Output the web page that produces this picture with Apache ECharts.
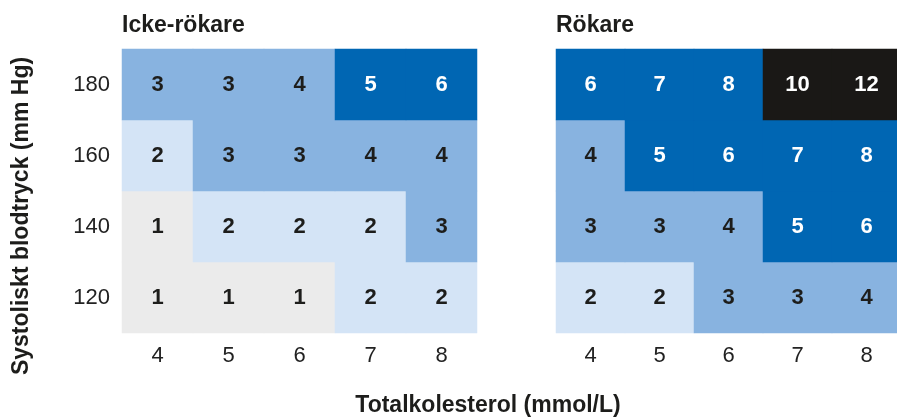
<!DOCTYPE html>
<html>
<head>
<meta charset="utf-8">
<script src="https://cdn.jsdelivr.net/npm/echarts@6/dist/echarts.min.js"></script>
<style>html,body{margin:0;padding:0;background:#fff}#c{width:897px;height:417px}</style>
</head>
<body>
<div id="c"></div>
<script>
const cholesterol = ['4', '5', '6', '7', '8'];
const bloodPressure = ['120', '140', '160', '180'];
// rows: 120, 140, 160, 180
const nonSmokers = [
  [1, 1, 1, 2, 2],
  [1, 2, 2, 2, 3],
  [2, 3, 3, 4, 4],
  [3, 3, 4, 5, 6]
];
const smokers = [
  [2, 2, 3, 3, 4],
  [3, 3, 4, 5, 6],
  [4, 5, 6, 7, 8],
  [6, 7, 8, 10, 12]
];
const panelTitles = ['Icke-rökare', 'Rökare'];
const yAxisTitle = 'Systoliskt blodtryck (mm Hg)';
const xAxisTitle = 'Totalkolesterol (mmol/L)';

const FONT = '"Liberation Sans", Arial, sans-serif';

function toData(rows) {
  const out = [];
  rows.forEach((row, yi) => row.forEach((v, xi) => out.push([xi, yi, v])));
  return out;
}

const chart = echarts.init(document.getElementById('c'));

const labelCfg = {
  show: true,
  formatter: p => (p.value[2] >= 5 ? '{w|' : '{d|') + p.value[2] + '}',
  rich: {
    w: { color: '#ffffff', fontSize: 22, fontWeight: 'bold', fontFamily: FONT },
    d: { color: '#1d1d1b', fontSize: 22, fontWeight: 'bold', fontFamily: FONT }
  }
};

function xAx(gi) {
  return {
    type: 'category', gridIndex: gi, data: cholesterol,
    axisLine: { show: false }, axisTick: { show: false }, splitLine: { show: false },
    axisLabel: { color: '#222', fontSize: 22, fontFamily: FONT, margin: 12 }
  };
}
function yAx(gi, show) {
  return {
    type: 'category', gridIndex: gi, data: bloodPressure,
    axisLine: { show: false }, axisTick: { show: false }, splitLine: { show: false },
    axisLabel: { show: show, color: '#222', fontSize: 22, fontFamily: FONT, margin: 12 }
  };
}

chart.setOption({
  animation: false,
  backgroundColor: '#ffffff',
  title: [
    { text: panelTitles[0], left: 117, top: 9, textStyle: { fontSize: 23, fontWeight: 'bold', color: '#1d1d1b', fontFamily: FONT } },
    { text: panelTitles[1], left: 551, top: 9, textStyle: { fontSize: 23, fontWeight: 'bold', color: '#1d1d1b', fontFamily: FONT } }
  ],
  grid: [
    { left: 122, top: 49, width: 355, height: 284, outerBoundsMode: 'none' },
    { left: 556, top: 49, width: 345, height: 284, outerBoundsMode: 'none' }
  ],
  xAxis: [xAx(0), xAx(1)],
  yAxis: [yAx(0, true), yAx(1, false)],
  visualMap: {
    type: 'piecewise', show: false, seriesIndex: [0, 1], dimension: 2,
    pieces: [
      { min: 0, max: 1.5, color: '#ebebeb' },
      { min: 1.5, max: 2.5, color: '#d4e4f6' },
      { min: 2.5, max: 4.5, color: '#88b3e0' },
      { min: 4.5, max: 9, color: '#0066b3' },
      { min: 9, max: 100, color: '#1a1816' }
    ]
  },
  series: [
    { type: 'heatmap', xAxisIndex: 0, yAxisIndex: 0, data: toData(nonSmokers), label: labelCfg, itemStyle: { borderWidth: 0 }, emphasis: { disabled: true } },
    { type: 'heatmap', xAxisIndex: 1, yAxisIndex: 1, data: toData(smokers), label: labelCfg, itemStyle: { borderWidth: 0 }, emphasis: { disabled: true } }
  ],
  graphic: [
    { type: 'text', x: 22, y: 216, rotation: Math.PI / 2,
      style: { text: yAxisTitle, fontSize: 23, fontWeight: 'bold', fill: '#1d1d1b', fontFamily: FONT, align: 'center', verticalAlign: 'middle' } },
    { type: 'text', x: 488, y: 406,
      style: { text: xAxisTitle, fontSize: 23, fontWeight: 'bold', fill: '#1d1d1b', fontFamily: FONT, align: 'center', verticalAlign: 'middle' } }
  ]
});
</script>
</body>
</html>
